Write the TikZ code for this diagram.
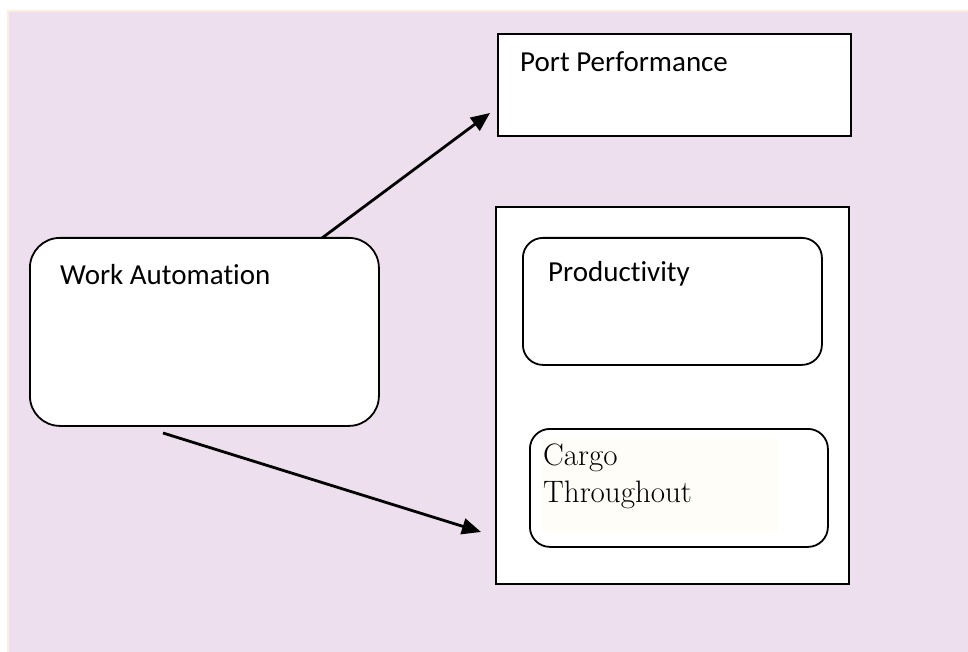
\documentclass[tikz,border=0pt]{standalone}
\usepackage{fontspec}
\newfontfamily\calfont[Ligatures={NoCommon,NoRequired,NoContextual}]{Carlito}
\usetikzlibrary{arrows.meta}
\definecolor{bgpurple}{RGB}{237,223,237}
\definecolor{bgedge}{RGB}{253,237,222}
\definecolor{textbg}{RGB}{255,253,248}
\tikzset{
  sqbox/.style={draw=black, fill=white, line width=1.8pt, inner sep=0pt, anchor=north west},
  rdbox/.style={sqbox, rounded corners=20pt},
  sanslabel/.style={font=\calfont\fontsize{29}{33}\selectfont, anchor=base west, inner sep=0pt},
  seriflabel/.style={font=\fontsize{31}{37}\selectfont, anchor=base west, inner sep=0pt},
  arr/.style={line width=2.8pt, -{Triangle[length=19pt,width=16pt]}}
}
\begin{document}
\begin{tikzpicture}[x=1pt,y=-1pt]
\useasboundingbox (0,0) rectangle (968,652);
\fill[white] (0,0) rectangle (968,652);
\fill[bgedge] (7,10) rectangle (968,652);
\fill[bgpurple] (9,12) rectangle (968,652);
% boxes
\node[sqbox, minimum width=353pt, minimum height=102pt] (port) at (497,33) {};
\node[sqbox, minimum width=353pt, minimum height=377pt] (outer) at (495,206) {};
\node[rdbox, minimum width=299pt, minimum height=127pt] (prod) at (522,237) {};
\node[rdbox, minimum width=298pt, minimum height=118pt] (cargo) at (529,428) {};
\node[rdbox, rounded corners=30pt, minimum width=349pt, minimum height=188pt] (work) at (29,237) {};
\node[fill=textbg, inner sep=0pt, anchor=north west, minimum width=236pt, minimum height=94pt] (cargobg) at (542,439) {};
% labels
\node[sanslabel] (portlbl) at (520,72) {Port Performance};
\node[sanslabel] (prodlbl) at (548,281) {Productivity};
\node[sanslabel] (worklbl) at (60,284) {Work Automation};
\node[seriflabel] (cargolbl1) at (543,465) {Cargo};
\node[seriflabel] (cargolbl2) at (543,502) {Throughout};
% connectors
\coordinate (a1s) at (322,238);
\coordinate (a1e) at (490,113);
\coordinate (a2s) at (163,433);
\coordinate (a2e) at (481,532);
\draw[arr] (a1s) -- (a1e);
\draw[arr] (a2s) -- (a2e);
\end{tikzpicture}
\end{document}
